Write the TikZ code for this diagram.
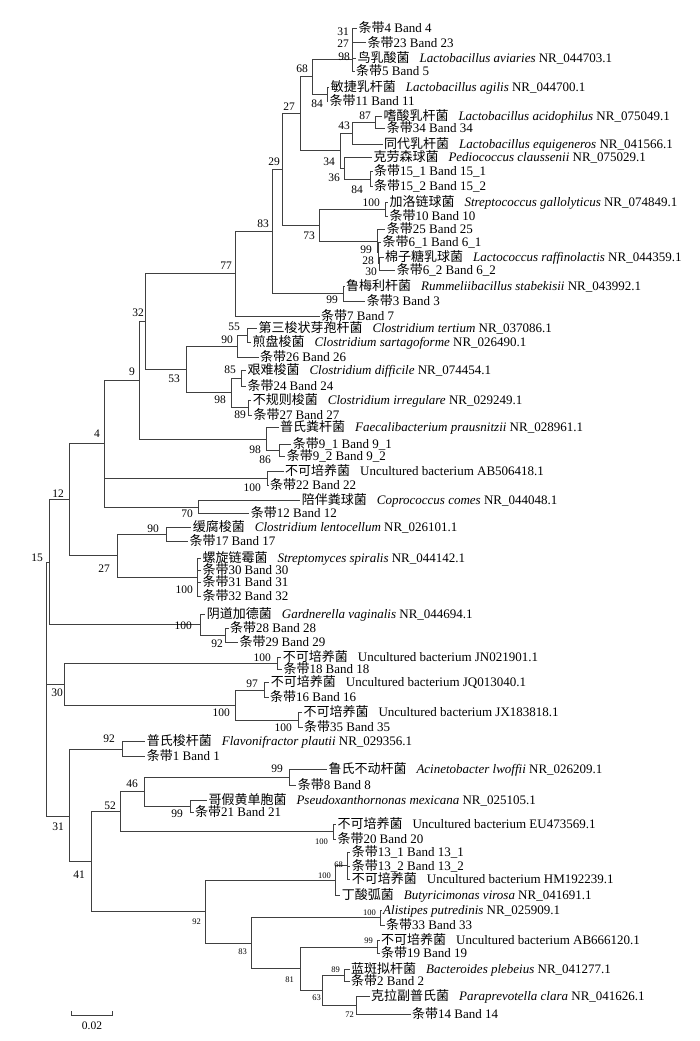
\documentclass[tikz,border=0pt]{standalone}
\usepackage{fontspec}
\setmainfont{Liberation Serif}
\newfontfamily\cjkfont{Noto Sans CJK SC}
\newcommand{\zh}[1]{{\cjkfont #1}}
\newcommand{\gp}{\hspace{10pt}}

\tikzset{
  branch/.style={draw=black!75, line width=1pt},
  leaf/.style={anchor=west, inner xsep=1.5pt, inner ysep=0pt, text height=8.8pt, text depth=0.6pt,
    font=\fontsize{13}{14}\selectfont},
  bs/.style={anchor=east, inner sep=0pt, font=\fontsize{11.5}{12}\selectfont},
  bssmall/.style={anchor=east, inner sep=0pt, font=\fontsize{8.5}{9}\selectfont},
}

\begin{document}
\begin{tikzpicture}[x=1pt,y=-1pt]
\useasboundingbox (0,0) rectangle (700,1041);

% leaves
\node[leaf] (t4)    at (357,28.3)    {\zh{条带}4 Band 4};
\node[leaf] (t23)   at (366,43)      {\zh{条带}23 Band 23};
\node[leaf] (aviar) at (356,58.3)    {\zh{鸟乳酸菌}\gp\textit{Lactobacillus aviaries} NR\_044703.1};
\node[leaf] (t5)    at (354.5,71.7)  {\zh{条带}5 Band 5};
\node[leaf] (agil)  at (329.2,87.3)  {\zh{敏捷乳杆菌}\gp\textit{Lactobacillus agilis} NR\_044700.1};
\node[leaf] (t11)   at (328,101.7)   {\zh{条带}11 Band 11};
\node[leaf] (acid)  at (381.8,116)   {\zh{嗜酸乳杆菌}\gp\textit{Lactobacillus acidophilus} NR\_075049.1};
\node[leaf] (t34)   at (385.2,128.3) {\zh{条带}34 Band 34};
\node[leaf] (equi)  at (382.5,144)   {\zh{同代乳杆菌}\gp\textit{Lactobacillus equigeneros} NR\_041566.1};
\node[leaf] (pedi)  at (371.8,157.3) {\zh{克劳森球菌}\gp\textit{Pediococcus claussenii} NR\_075029.1};
\node[leaf] (t151)  at (372.5,171.7) {\zh{条带}15\_1 Band 15\_1};
\node[leaf] (t152)  at (372.5,186.7) {\zh{条带}15\_2 Band 15\_2};
\node[leaf] (gall)  at (387.8,202.3) {\zh{加洛链球菌}\gp\textit{Streptococcus gallolyticus} NR\_074849.1};
\node[leaf] (t10)   at (387.8,216.7) {\zh{条带}10 Band 10};
\node[leaf] (t25)   at (385.2,229.5) {\zh{条带}25 Band 25};
\node[leaf] (t61)   at (380.8,242)   {\zh{条带}6\_1 Band 6\_1};
\node[leaf] (raff)  at (383.5,257.3) {\zh{棉子糖乳球菌}\gp\textit{Lactococcus raffinolactis} NR\_044359.1};
\node[leaf] (t62)   at (395.2,270)   {\zh{条带}6\_2 Band 6\_2};
\node[leaf] (rumm)  at (344.5,286)   {\zh{鲁梅利杆菌}\gp\textit{Rummeliibacillus stabekisii} NR\_043992.1};
\node[leaf] (t3)    at (365.2,301.7) {\zh{条带}3 Band 3};
\node[leaf] (t7)    at (319.5,316)   {\zh{条带}7 Band 7};
\node[leaf] (tert)  at (256.8,328.3) {\zh{第三梭状芽孢杆菌}\gp\textit{Clostridium tertium} NR\_037086.1};
\node[leaf] (sart)  at (250.8,342.3) {\zh{煎盘梭菌}\gp\textit{Clostridium sartagoforme} NR\_026490.1};
\node[leaf] (t26)   at (258.5,357.3) {\zh{条带}26 Band 26};
\node[leaf] (diff)  at (245.8,370.7) {\zh{艰难梭菌}\gp\textit{Clostridium difficile} NR\_074454.1};
\node[leaf] (t24)   at (245.8,386)   {\zh{条带}24 Band 24};
\node[leaf] (irre)  at (251.2,400)   {\zh{不规则梭菌}\gp\textit{Clostridium irregulare} NR\_029249.1};
\node[leaf] (t27)   at (251.8,415)   {\zh{条带}27 Band 27};
\node[leaf] (faec)  at (278.5,427.7) {\zh{普氏粪杆菌}\gp\textit{Faecalibacterium prausnitzii} NR\_028961.1};
\node[leaf] (t91)   at (291.2,444.3) {\zh{条带}9\_1 Band 9\_1};
\node[leaf] (t92)   at (285.2,456.7) {\zh{条带}9\_2 Band 9\_2};
\node[leaf] (ab50)  at (283.5,471.7) {\zh{不可培养菌}\gp Uncultured bacterium AB506418.1};
\node[leaf] (t22)   at (268.5,485)   {\zh{条带}22 Band 22};
\node[leaf] (copr)  at (300.2,500.7) {\zh{陪伴粪球菌}\gp\textit{Coprococcus comes} NR\_044048.1};
\node[leaf] (t12)   at (249.2,513.3) {\zh{条带}12 Band 12};
\node[leaf] (lent)  at (191.2,527.3) {\zh{缓腐梭菌}\gp\textit{Clostridium lentocellum} NR\_026101.1};
\node[leaf] (t17)   at (187.8,541.7) {\zh{条带}17 Band 17};
\node[leaf] (stre)  at (200.8,558.3) {\zh{螺旋链霉菌}\gp\textit{Streptomyces spiralis} NR\_044142.1};
\node[leaf] (t30)   at (200.8,570)   {\zh{条带}30 Band 30};
\node[leaf] (t31)   at (200.8,582.7) {\zh{条带}31 Band 31};
\node[leaf] (t32)   at (200.8,596)   {\zh{条带}32 Band 32};
\node[leaf] (gard)  at (205.2,614)   {\zh{阴道加德菌}\gp\textit{Gardnerella vaginalis} NR\_044694.1};
\node[leaf] (t28)   at (228.5,628.3) {\zh{条带}28 Band 28};
\node[leaf] (t29)   at (237.8,642.3) {\zh{条带}29 Band 29};
\node[leaf] (jn02)  at (281.2,657.3) {\zh{不可培养菌}\gp Uncultured bacterium JN021901.1};
\node[leaf] (t18)   at (281.8,669.5) {\zh{条带}18 Band 18};
\node[leaf] (jq01)  at (269.2,682.7) {\zh{不可培养菌}\gp Uncultured bacterium JQ013040.1};
\node[leaf] (t16)   at (268.5,697.3) {\zh{条带}16 Band 16};
\node[leaf] (jx18)  at (301.8,712.7) {\zh{不可培养菌}\gp Uncultured bacterium JX183818.1};
\node[leaf] (t35)   at (302.5,727.3) {\zh{条带}35 Band 35};
\node[leaf] (flav)  at (145.2,741.7) {\zh{普氏梭杆菌}\gp\textit{Flavonifractor plautii} NR\_029356.1};
\node[leaf] (t1)    at (145.2,756.7) {\zh{条带}1 Band 1};
\node[leaf] (acin)  at (326.8,769)   {\zh{鲁氏不动杆菌}\gp\textit{Acinetobacter lwoffii} NR\_026209.1};
\node[leaf] (t8)    at (296.2,785)   {\zh{条带}8 Band 8};
\node[leaf] (pseu)  at (206.8,800)   {\zh{哥假黄单胞菌}\gp\textit{Pseudoxanthornonas mexicana} NR\_025105.1};
\node[leaf] (t21)   at (193.5,812.7) {\zh{条带}21 Band 21};
\node[leaf] (eu47)  at (335.8,824)   {\zh{不可培养菌}\gp Uncultured bacterium EU473569.1};
\node[leaf] (t20)   at (335.8,839.5) {\zh{条带}20 Band 20};
\node[leaf] (t131)  at (350.2,852.2) {\zh{条带}13\_1 Band 13\_1};
\node[leaf] (t132)  at (350.2,866)   {\zh{条带}13\_2 Band 13\_2};
\node[leaf] (hm19)  at (350.2,879.5) {\zh{不可培养菌}\gp Uncultured bacterium HM192239.1};
\node[leaf] (buty)  at (340.2,895)   {\zh{丁酸弧菌}\gp\textit{Butyricimonas virosa} NR\_041691.1};
\node[leaf] (alis)  at (381.5,910)   {\textit{Alistipes putredinis} NR\_025909.1};
\node[leaf] (t33)   at (384.5,925)   {\zh{条带}33 Band 33};
\node[leaf] (ab66)  at (379.5,940.5) {\zh{不可培养菌}\gp Uncultured bacterium AB666120.1};
\node[leaf] (t19)   at (379.5,953.5) {\zh{条带}19 Band 19};
\node[leaf] (pleb)  at (349.5,969.3) {\zh{蓝斑拟杆菌}\gp\textit{Bacteroides plebeius} NR\_041277.1};
\node[leaf] (t2)    at (349.5,981.7) {\zh{条带}2 Band 2};
\node[leaf] (clar)  at (369.5,996.7) {\zh{克拉副普氏菌}\gp\textit{Paraprevotella clara} NR\_041626.1};
\node[leaf] (t14)   at (410.5,1014.3) {\zh{条带}14 Band 14};

% inner nodes
\coordinate (n31a) at (352.7,35.65);
\coordinate (n27a) at (352.7,46.98);
\coordinate (n98a) at (352.7,59.34);
\coordinate (n84a) at (327.3,94.5);
\coordinate (n68) at (312.3,76.92);
\coordinate (n87) at (375,122.15);
\coordinate (n43) at (352.7,133.08);
\coordinate (n84b) at (370.7,179.2);
\coordinate (n36) at (344,168.25);
\coordinate (n34) at (340.7,150.67);
\coordinate (n27b) at (300,113.8);
\coordinate (n100a) at (385,209.5);
\coordinate (n30a) at (379.5,263.65);
\coordinate (n28) at (378.5,252.8);
\coordinate (n99a) at (377.3,241.2);
\coordinate (n73) at (319.3,225.4);
\coordinate (n29) at (282.7,169.6);
\coordinate (n99b) at (343.3,293.85);
\coordinate (n83a) at (272.3,231.7);
\coordinate (n77) at (235.7,273.9);
\coordinate (n55) at (247.3,335.3);
\coordinate (n90a) at (237.3,346.3);
\coordinate (n85) at (241,378.35);
\coordinate (n89a) at (248.3,407.5);
\coordinate (n98b) at (231,392.9);
\coordinate (n53) at (186.7,369.6);
\coordinate (n32) at (145,321.75);
\coordinate (n86) at (279,450.5);
\coordinate (n98c) at (266,439.1);
\coordinate (n9) at (139.3,380.4);
\coordinate (n100b) at (267.3,478.35);
\coordinate (n70) at (198.3,507);
\coordinate (n4) at (104,443.7);
\coordinate (n90b) at (166,534.5);
\coordinate (n100c) at (197.3,577.15);
\coordinate (n27c) at (117.3,555.8);
\coordinate (n12) at (69.3,499.75);
\coordinate (n92a) at (225,635.3);
\coordinate (n100d) at (200,624.65);
\coordinate (n15) at (49.3,562.2);
\coordinate (n100e) at (277.7,663.4);
\coordinate (n97) at (264,690);
\coordinate (n100f) at (298.3,720);
\coordinate (n100g) at (235.7,705);
\coordinate (n30b) at (64.3,684.2);
\coordinate (n92b) at (122.7,749.2);
\coordinate (n99c) at (289.3,777);
\coordinate (n99d) at (190.7,806.35);
\coordinate (n46) at (144,791.7);
\coordinate (n100h) at (333.3,831.8);
\coordinate (n52) at (120,811.8);
\coordinate (n68b) at (347.3,865.8);
\coordinate (n100i) at (335,880.4);
\coordinate (n100j) at (380,917.5);
\coordinate (n99e) at (377.8,947);
\coordinate (n89b) at (344.4,975.5);
\coordinate (n72) at (356.9,1005.5);
\coordinate (n63) at (322.2,990.5);
\coordinate (n81) at (300.9,968.75);
\coordinate (n83b) at (251.1,943.1);
\coordinate (n92c) at (205,911.8);
\coordinate (n41) at (91,861.8);
\coordinate (n31b) at (69.3,816);
\coordinate (root) at (46.7,689.1);

% branches
\foreach \p/\c in {n31a/t4, n31a/t23, n27a/n31a, n27a/aviar, n98a/n27a, n98a/t5,
  n84a/agil, n84a/t11, n68/n98a, n68/n84a, n87/acid, n87/t34, n43/n87, n43/equi,
  n84b/t151, n84b/t152, n36/pedi, n36/n84b, n34/n43, n34/n36, n27b/n68, n27b/n34,
  n100a/gall, n100a/t10, n30a/raff, n30a/t62, n28/t61, n28/n30a, n99a/t25, n99a/n28,
  n73/n100a, n73/n99a, n29/n27b, n29/n73, n99b/rumm, n99b/t3, n83a/n29, n83a/n99b,
  n77/n83a, n77/t7, n55/tert, n55/sart, n90a/n55, n90a/t26, n85/diff, n85/t24,
  n89a/irre, n89a/t27, n98b/n85, n98b/n89a, n53/n90a, n53/n98b, n32/n77, n32/n53,
  n86/t91, n86/t92, n98c/faec, n98c/n86, n9/n32, n9/n98c, n100b/ab50, n100b/t22,
  n70/copr, n70/t12, n4/n9, n4/n100b, n4/n70, n90b/lent, n90b/t17,
  n100c/stre, n100c/t30, n100c/t31, n100c/t32, n27c/n90b, n27c/n100c, n12/n4, n12/n27c,
  n92a/t28, n92a/t29, n100d/gard, n100d/n92a, n15/n12, n15/n100d,
  n100e/jn02, n100e/t18, n97/jq01, n97/t16, n100f/jx18, n100f/t35,
  n100g/n97, n100g/n100f, n30b/n100e, n30b/n100g, n92b/flav, n92b/t1,
  n99c/acin, n99c/t8, n99d/pseu, n99d/t21, n46/n99c, n46/n99d,
  n100h/eu47, n100h/t20, n52/n46, n52/n100h, n68b/t131, n68b/t132, n68b/hm19,
  n100i/n68b, n100i/buty, n100j/alis, n100j/t33, n99e/ab66, n99e/t19,
  n89b/pleb, n89b/t2, n72/clar, n72/t14, n63/n89b, n63/n72, n81/n99e, n81/n63,
  n83b/n100j, n83b/n81, n92c/n100i, n92c/n83b, n41/n52, n41/n92c,
  n31b/n92b, n31b/n41, root/n15, root/n30b, root/n31b}
  \draw[branch] (\p) |- (\c);

% bootstrap values
\foreach \n/\x/\y/\v in {n31a/349/31.7/31, n27a/349/43.3/27, n98a/350/56.7/98,
  n68/308/69/68, n84a/323/104/84, n87/371/115.7/87, n43/350/126/43, n27b/295/106.7/27,
  n34/335/161.7/34, n36/340/177.3/36, n84b/363/189.3/84, n29/280/161.7/29,
  n100a/380/202.3/100, n73/315/236/73, n99a/372/249.3/99, n28/374/261/28,
  n30a/377/271.7/30, n83a/269/224/83, n99b/338/299.3/99, n77/232/266/77,
  n32/144/313/32, n55/240/326.7/55, n90a/233/339.3/90, n85/236/370/85,
  n98b/226/400/98, n89a/246/414.3/89, n53/180/379/53, n9/135/372/9,
  n98c/261/449.3/98, n86/271/459.3/86, n4/100/434/4, n100b/261/487.3/100,
  n70/193/514/70, n12/64/494/12, n90b/159/529/90, n100c/193/589.3/100,
  n27c/110/569/27, n15/43/558/15, n100d/192/626/100, n92a/223/643.3/92,
  n100e/271/657.3/100, n97/258/684/97, n100f/292/727.3/100, n100g/230/712.7/100,
  n30b/63/693/30, n92b/115/739/92, n99c/283/769/99, n99d/183/813.3/99,
  n46/138/784/46, n52/116/806/52, n31b/64/827/31, n41/85/875/41}
  \node[bs] (b\n) at (\x,\y) {\v};
\foreach \n/\x/\y/\v in {n100h/328/841.7/100, n68b/343/864.3/68, n100i/331/876/100,
  n92c/201/921.7/92, n100j/376/912.7/100, n99e/373/941/99, n83b/247/951.7/83,
  n81/294/979.3/81, n63/321/997.3/63, n89b/340/969.3/89, n72/354/1014.3/72}
  \node[bssmall] (b\n) at (\x,\y) {\v};

% scale bar
\coordinate (sbl) at (71,1015);
\coordinate (sbr) at (112.7,1015);
\draw[branch, line width=0.8pt] ([yshift=4pt]sbl) -- (sbl) -- (sbr) -- ([yshift=4pt]sbr);
\node[bs, anchor=center] (sblabel) at (92,1026) {0.02};
\end{tikzpicture}
\end{document}
